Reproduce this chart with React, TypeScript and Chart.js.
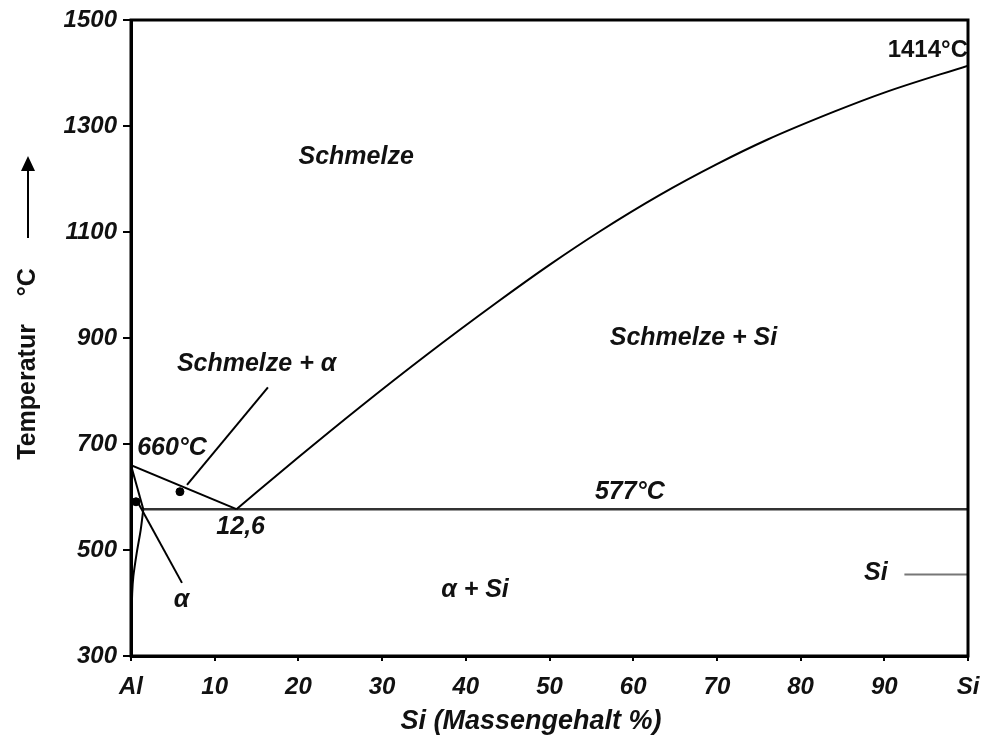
import React, { useEffect, useRef } from "react";
import { Chart, registerables } from "chart.js";

Chart.register(...registerables);

// ---- DATA ----
const xTickValues = [0, 10, 20, 30, 40, 50, 60, 70, 80, 90, 100];
const xTickLabels = ["Al", "10", "20", "30", "40", "50", "60", "70", "80", "90", "Si"];
const yTickValues = [300, 500, 700, 900, 1100, 1300, 1500];

// liquidus (Al side) : Si %, °C
const liquidusAl: [number, number][] = [[0, 660], [12.6, 577]];
// liquidus (Si side)
const liquidusSi: [number, number][] = [
  [12.6, 577], [20, 675], [27.3, 769], [35.3, 868], [43.7, 967], [50, 1038],
  [56, 1101], [63.2, 1170], [70, 1228], [76, 1274], [84, 1327], [90, 1363], [100, 1414],
];
// solidus of alpha
const solidusAl: [number, number][] = [[0, 660], [1.47, 577]];
// solvus of alpha
const solvusAl: [number, number][] = [
  [1.47, 577], [1.16, 538], [0.68, 494], [0.28, 450], [0.14, 418], [0.05, 360], [0, 300],
];
// eutectic line
const eutectic: [number, number][] = [[1.47, 577], [100, 577]];
// marker dots
const markerDots: [number, number][] = [[5.85, 610], [0.6, 591]];
// leader lines
const leaderMelt: [number, number][] = [[16.36, 807], [6.69, 623]];
const leaderAlpha: [number, number][] = [[0.84, 589], [6.09, 438]];
const leaderSi: [number, number][] = [[92.4, 454], [100, 454]];

// text annotations: text, Si %, °C
const labelTexts = ["Schmelze", "Schmelze + Si", "Schmelze + α", "660°C", "577°C", "12,6", "α", "α + Si", "Si"];
const labelX = [26.9, 67.2, 15.0, 4.9, 59.6, 13.1, 6.03, 41.1, 89.0];
const labelT = [1241, 900, 851, 692, 609, 543, 406, 424, 457];
const meltingSiText = "1414°C";
const meltingSiPos: [number, number] = [95.2, 1443];

const xTitle = "Si (Massengehalt %)";
const yTitle = "Temperatur    °C";

const FONT = "'Liberation Sans', Arial, sans-serif";

const toXY = (arr: [number, number][]) => arr.map(([x, y]) => ({ x, y }));

const annotationPlugin = {
  id: "phaseAnnotations",
  afterDatasetsDraw(chart: any) {
    const { ctx, chartArea, scales } = chart;
    const xs = scales.x;
    const ys = scales.y;
    ctx.save();
    ctx.fillStyle = "#111";
    ctx.textAlign = "center";
    ctx.textBaseline = "middle";
    ctx.font = `italic bold 25px ${FONT}`;
    labelTexts.forEach((t, i) => {
      ctx.fillText(t, xs.getPixelForValue(labelX[i]), ys.getPixelForValue(labelT[i]));
    });
    ctx.font = `bold 24px ${FONT}`;
    ctx.fillText(meltingSiText, xs.getPixelForValue(meltingSiPos[0]), ys.getPixelForValue(meltingSiPos[1]));

    // frame
    ctx.strokeStyle = "#000";
    ctx.lineWidth = 3;
    ctx.strokeRect(chartArea.left, chartArea.top, chartArea.right - chartArea.left, chartArea.bottom - chartArea.top);

    // x title
    ctx.font = `italic bold 27px ${FONT}`;
    ctx.textBaseline = "alphabetic";
    ctx.fillText(xTitle, 531, 729);

    // y title (rotated)
    ctx.save();
    ctx.translate(35, 364);
    ctx.rotate(-Math.PI / 2);
    ctx.font = `bold 25px ${FONT}`;
    ctx.textAlign = "center";
    ctx.fillText(yTitle, 0, 0);
    ctx.restore();

    // arrow
    ctx.strokeStyle = "#000";
    ctx.lineWidth = 2;
    ctx.beginPath();
    ctx.moveTo(28, 238);
    ctx.lineTo(28, 168);
    ctx.stroke();
    ctx.beginPath();
    ctx.moveTo(28, 156);
    ctx.lineTo(21, 171);
    ctx.lineTo(35, 171);
    ctx.closePath();
    ctx.fillStyle = "#000";
    ctx.fill();
    ctx.restore();
  },
};

export default function App() {
  const ref = useRef<HTMLCanvasElement>(null);
  useEffect(() => {
    if (!ref.current) return;
    const line = (data: [number, number][], extra: any = {}) => ({
      data: toXY(data),
      showLine: true,
      borderColor: "#000",
      borderWidth: 2,
      pointRadius: 0,
      fill: false,
      ...extra,
    });
    const chart = new Chart(ref.current, {
      type: "scatter",
      data: {
        datasets: [
          line(liquidusAl),
          line(liquidusSi, { cubicInterpolationMode: "monotone" }),
          line(solidusAl),
          line(solvusAl, { tension: 0.3 }),
          line(eutectic, { borderColor: "#333", borderWidth: 2.5 }),
          line(leaderMelt),
          line(leaderAlpha),
          line(leaderSi, { borderColor: "#777", borderWidth: 2 }),
          {
            data: toXY(markerDots),
            showLine: false,
            pointRadius: 4,
            pointBackgroundColor: "#000",
            pointBorderColor: "#000",
          },
        ],
      },
      options: {
        responsive: false,
        animation: false,
        layout: { padding: { left: 0, top: 20, right: 19, bottom: 0 } },
        plugins: { legend: { display: false }, tooltip: { enabled: false } },
        scales: {
          x: {
            type: "linear",
            min: 0,
            max: 100,
            afterFit: (s: any) => { s.height = 82; s.paddingLeft = 0; s.paddingRight = 0; },
            afterBuildTicks: (s: any) => { s.ticks = xTickValues.map((v) => ({ value: v })); },
            border: { display: true, color: "#000", width: 3 },
            grid: { drawOnChartArea: false, color: "#000", tickLength: 5, lineWidth: 2 },
            ticks: {
              autoSkip: false,
              maxRotation: 0,
              padding: 12,
              color: "#111",
              font: { family: FONT, size: 24, style: "italic", weight: "bold" },
              callback: (v: any) => {
                const i = xTickValues.indexOf(Number(v));
                return i >= 0 ? xTickLabels[i] : "";
              },
            },
          },
          y: {
            type: "linear",
            min: 300,
            max: 1500,
            afterFit: (s: any) => { s.width = 131; s.paddingTop = 0; s.paddingBottom = 0; },
            afterBuildTicks: (s: any) => { s.ticks = yTickValues.map((v) => ({ value: v })); },
            border: { display: true, color: "#000", width: 3 },
            grid: { drawOnChartArea: false, color: "#000", tickLength: 8, lineWidth: 2 },
            ticks: {
              padding: 6,
              color: "#111",
              font: { family: FONT, size: 24, style: "italic", weight: "bold" },
              callback: (v: any) => String(v),
            },
          },
        },
      },
      plugins: [annotationPlugin],
    } as any);
    return () => chart.destroy();
  }, []);
  return (
    <div style={{ position: "absolute", left: 0, top: 0, width: 987, height: 738, background: "#fff" }}>
      <canvas ref={ref} width={987} height={738} style={{ display: "block" }} />
    </div>
  );
}
